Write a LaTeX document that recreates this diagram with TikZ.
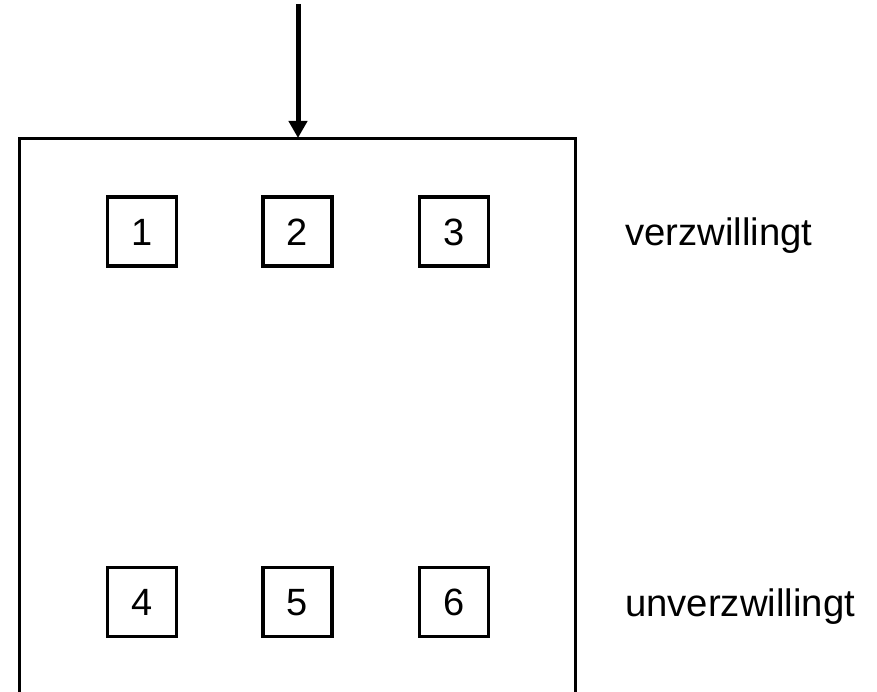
\documentclass[tikz,border=0pt]{standalone}
\usepackage{fontspec}
\setmainfont{Liberation Sans}
\usetikzlibrary{arrows.meta}
\begin{document}
\begin{tikzpicture}[x=1pt,y=-1pt,
  cell/.style={draw, line width=3.2pt, minimum size=69pt, inner sep=0pt, text height=27.2pt, text depth=0pt, font=\fontsize{38}{45}\selectfont},
  lbl/.style={anchor=base west, inner sep=0pt, font=\fontsize{38.3}{45}\selectfont},
  frame/.style={line width=3pt},
  feed/.style={line width=5pt, -{Triangle[width=18pt,length=17pt]}}]
\useasboundingbox (0,0) rectangle (877,692);
\draw[frame] (19.5,692) -- (19.5,138.5) -- (575.5,138.5) -- (575.5,692);
\coordinate (src) at (298,4);
\coordinate (in) at (298,138);
\draw[feed] (src) -- (in);
\node[cell] (c1) at (142,231.5) {1};
\node[cell] (c2) at (297.5,231.5) {2};
\node[cell] (c3) at (454,231.5) {3};
\node[cell] (c4) at (142,602) {4};
\node[cell] (c5) at (297.5,602) {5};
\node[cell] (c6) at (454,602) {6};
\node[lbl] (l1) at (625,246) {verzwillingt};
\node[lbl] (l2) at (625,616) {unverzwillingt};
\end{tikzpicture}
\end{document}
